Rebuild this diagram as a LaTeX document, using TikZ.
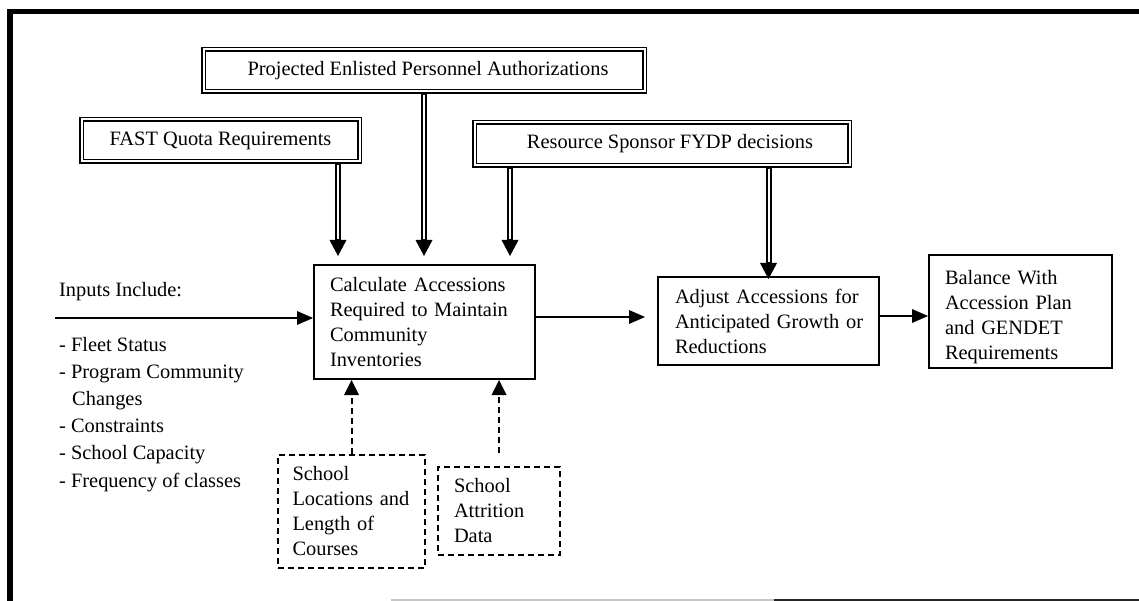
\documentclass[tikz,border=0pt]{standalone}
\usepackage{fontspec}
\setmainfont{Liberation Serif}
\usetikzlibrary{arrows.meta}
\newcommand{\dtxt}{\fontsize{20.4pt}{25pt}\selectfont}
\newcommand{\dlist}{\fontsize{20.4pt}{27.2pt}\selectfont}
\begin{document}
\begin{tikzpicture}[x=1pt,y=-1pt,
  box/.style={draw, line width=2pt, font=\dtxt, align=left, inner ysep=0pt},
  dashbox/.style={box, dash pattern=on 6pt off 4pt},
  dblbox/.style={draw, double, double distance=2pt, line width=1.5pt, font=\dtxt, inner sep=0pt},
  arr/.style={line width=2pt, -{Triangle[length=16pt,width=14pt,line width=0pt]}},
  dasharr/.style={line width=2pt, dash pattern=on 6pt off 4pt, -{Triangle[length=15pt,width=15pt,line width=0pt]}},
  dblarr/.style={line width=6pt, -{Triangle[length=16pt,width=17pt,line width=0pt]},
    postaction={draw=white, line width=2pt, -, shorten <=2.5pt, shorten >=16.5pt}}]
\useasboundingbox (0,0) rectangle (1139,601);

% page frame
\draw[line width=5.5pt] (10,601) -- (10,11.5) -- (1139,11.5);
\draw[gray!45, line width=1.6pt] (391,600) -- (774,600);
\draw[black!85, line width=1.6pt] (774,600) -- (1139,600);

% source boxes
\node[dblbox, minimum width=441pt, minimum height=42pt] (proj) at (424,70.5)
  {\hspace*{8pt}Projected Enlisted Personnel Authorizations};
\node[dblbox, minimum width=278pt, minimum height=42pt] (fast) at (220.5,140.5) {FAST Quota Requirements};
\node[dblbox, minimum width=375pt, minimum height=43pt] (res) at (662,144)
  {\hspace*{16pt}Resource Sponsor FYDP decisions};

% process boxes
\node[box, minimum height=114pt, text width=189pt, inner xsep=16pt] (calc) at (424.5,322)
  {\mbox{Calculate Accessions}\\\mbox{Required to Maintain}\\Community\\Inventories};
\node[box, minimum height=88pt, text width=187pt, inner xsep=17pt] (adj) at (768.5,321)
  {\mbox{Adjust Accessions for}\\\mbox{Anticipated Growth or}\\Reductions};
\node[box, minimum height=113pt, text width=151pt, inner xsep=16pt] (bal) at (1020.5,311.5)
  {\rule{0pt}{25pt}\mbox{Balance With}\\\mbox{Accession Plan}\\\mbox{and GENDET}\\Requirements};

% school data boxes
\node[dashbox, minimum height=113pt, text width=118pt, inner xsep=14.5pt] (loc) at (351.5,511.5)
  {School\\\mbox{Locations and}\\\mbox{Length of}\\Courses};
\node[dashbox, minimum height=88pt, text width=90pt, inner xsep=16pt] (att) at (499,511)
  {School\\Attrition\\Data};

% inputs
\node[font=\dtxt, anchor=base west, inner sep=0pt] (inhead) at (59,296) {Inputs Include:};
\node[font=\dlist, anchor=base west, align=left, inner sep=0pt] (inlist) at (59,487)
  {- Fleet Status\\- Program Community\\\hspace*{13pt}Changes\\- Constraints\\- School Capacity\\- Frequency of classes};
\coordinate (instart) at (55,318);

% helper points
\coordinate (fastout) at ([xshift=117.5pt]fast.south);
\coordinate (fastin) at (fastout |- calc.north);
\coordinate (projin) at (proj.south |- calc.north);
\coordinate (resl) at ([xshift=-152pt]res.south);
\coordinate (reslin) at (resl |- calc.north);
\coordinate (resr) at (res.south -| adj.north);
\coordinate (c1) at ([yshift=5pt]calc.east);
\coordinate (a1) at ([yshift=5pt]adj.east);
\coordinate (attout) at ([yshift=13pt]att.north);

% connectors
\draw[dblarr] (fastout) -- ([yshift=8pt]fastin);
\draw[dblarr] (proj.south) -- ([yshift=8pt]projin);
\draw[dblarr] (resl) -- ([yshift=8pt]reslin);
\draw[dblarr] (resr) -- ([yshift=-3pt]adj.north);
\draw[arr] (instart) -- (instart -| calc.west);
\draw[arr, shorten >=12pt] (c1) -- (c1 -| adj.west);
\draw[arr] (a1) -- (a1 -| bal.west);
\draw[dasharr] (loc.north) -- (loc.north |- calc.south);
\draw[dasharr] (attout) -- (attout |- calc.south);
\end{tikzpicture}
\end{document}
